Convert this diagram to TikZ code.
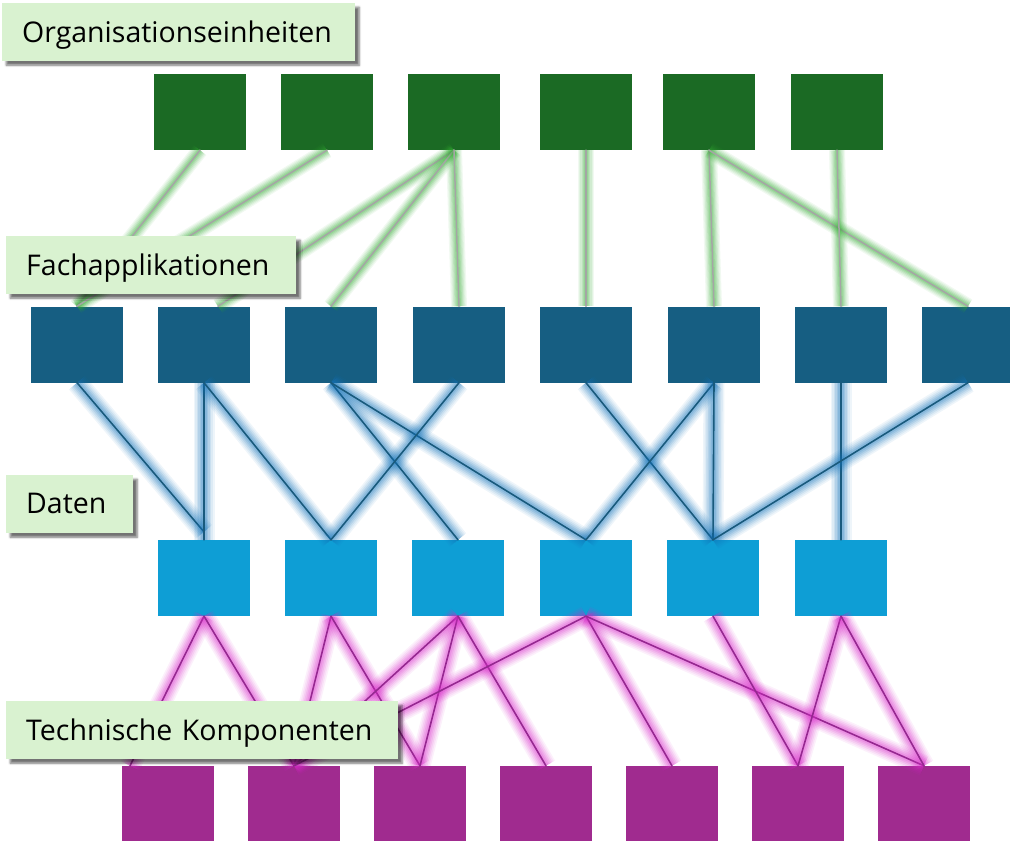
\documentclass[tikz,border=0pt]{standalone}
\usepackage{fontspec}
\setmainfont{Open Sans}
\usetikzlibrary{shadows.blur}
\definecolor{cG}{RGB}{27,106,36}
\definecolor{cB}{RGB}{22,94,130}
\definecolor{cD}{RGB}{14,158,213}
\definecolor{cP}{RGB}{160,43,143}
\definecolor{labfill}{RGB}{217,242,208}
\definecolor{glG}{RGB}{50,170,50}
\definecolor{glB}{RGB}{20,115,185}
\definecolor{glP}{RGB}{215,40,200}
\definecolor{lnG}{RGB}{165,165,165}
\definecolor{lnB}{RGB}{25,90,125}
\definecolor{lnP}{RGB}{150,40,145}
\tikzset{
  box/.style={rectangle, minimum width=92pt, minimum height=76pt, inner sep=0pt, draw=none},
  gbox/.style={box, fill=cG},
  bbox/.style={box, fill=cB},
  dbox/.style={box, fill=cD},
  pbox/.style={box, fill=cP},
  lab/.style={rectangle, fill=labfill, anchor=north west, inner xsep=20pt, inner ysep=0pt,
    minimum height=58pt, align=left, font=\fontsize{28.5}{32}\selectfont,
    blur shadow={shadow xshift=4pt, shadow yshift=-4pt, shadow opacity=55, shadow blur steps=5}},
  glow/.style 2 args={line cap=round,
    preaction={draw=#1, line width=#2, opacity=0.07},
    preaction={draw=#1, line width=0.85*#2, opacity=0.08},
    preaction={draw=#1, line width=0.7*#2, opacity=0.10},
    preaction={draw=#1, line width=0.55*#2, opacity=0.12},
    preaction={draw=#1, line width=0.4*#2, opacity=0.14},
    preaction={draw=#1, line width=0.25*#2, opacity=0.16}},
  eG/.style={glow={glG}{16pt}, draw=lnG, line width=1.5pt},
  eB/.style={glow={glB}{21pt}, draw=lnB, line width=1.6pt},
  eP/.style={glow={glP}{21pt}, draw=lnP, line width=1.6pt},
}
\begin{document}
\begin{tikzpicture}[x=1pt,y=-1pt]
\useasboundingbox (0,0) rectangle (1010,841);
% row 1
\foreach \n/\x in {1/200,2/327,3/454,4/586,5/709,6/837}
  \node[gbox] (g\n) at (\x,112) {};
% row 2
\foreach \n/\x in {1/77,2/204,3/331,4/459,5/586,6/714,7/841,8/968}
  \node[bbox] (b\n) at (\x,344.5) {};
% row 3
\foreach \n/\x in {1/204,2/331,3/458,4/586,5/713,6/841}
  \node[dbox] (d\n) at (\x,578) {};
% row 4
\foreach \n/\x in {1/168,2/294,3/420,4/546,5/672,6/798,7/924}
  \node[pbox] (p\n) at (\x,804) {};
% green connectors
\draw[eG] (g1.south) -- (b1.north);
\draw[eG] (g2.south) -- (b1.north);
\draw[eG] (g3.south) -- ([xshift=14pt]b2.north);
\draw[eG] (g3.south) -- (b3.north);
\draw[eG] (g3.south) -- (b4.north);
\draw[eG] (g4.south) -- (b5.north);
\draw[eG] (g5.south) -- (b6.north);
\draw[eG] (g5.south) -- (b8.north);
\draw[eG] (g6.south) -- (b7.north);
% blue connectors
\draw[eB] (b1.south) -- ([yshift=8pt]d1.north);
\draw[eB] (b2.south) -- (d1.north);
\draw[eB] (b2.south) -- (d2.north);
\draw[eB] (b3.south) -- (d3.north);
\draw[eB] (b3.south) -- (d4.north);
\draw[eB] (b4.south) -- (d2.north);
\draw[eB] (b5.south) -- (d5.north);
\draw[eB] (b6.south) -- (d4.north);
\draw[eB] (b6.south) -- (d5.north);
\draw[eB] (b7.south) -- (d6.north);
\draw[eB] (b8.south) -- (d5.north);
% purple connectors
\draw[eP] (d1.south) -- ([xshift=-38pt]p1.north);
\draw[eP] (d1.south) -- (p2.north);
\draw[eP] (d2.south) -- (p2.north);
\draw[eP] (d2.south) -- (p3.north);
\draw[eP] (d3.south) -- (p2.north);
\draw[eP] (d3.south) -- (p3.north);
\draw[eP] (d3.south) -- (p4.north);
\draw[eP] (d4.south) -- (p2.north);
\draw[eP] (d4.south) -- (p5.north);
\draw[eP] (d4.south) -- (p7.north);
\draw[eP] (d5.south) -- (p6.north);
\draw[eP] (d6.south) -- (p6.north);
\draw[eP] (d6.south) -- (p7.north);
% labels
\node[lab, text width=313pt, text depth=2pt] (l1) at (2,3) {Organisationseinheiten};
\node[lab, text width=250pt, text depth=2pt] (l2) at (6,236) {Fachapplikationen};
\node[lab, text width=87pt, text depth=2pt] (l3) at (6,475) {Daten};
\node[lab, text width=352pt, text depth=2pt] (l4) at (6,701) {Technische Komponenten};
\end{tikzpicture}
\end{document}
